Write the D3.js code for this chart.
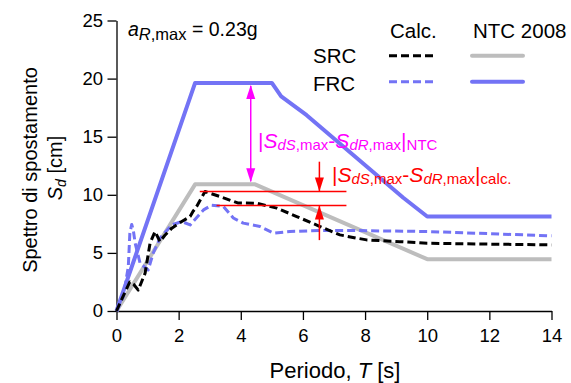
<!DOCTYPE html>
<html>
<head>
<meta charset="utf-8">
<script src="https://cdn.jsdelivr.net/npm/d3@7"></script>
<style>
  body { margin: 0; background: #fff; }
  svg text { font-family: "Liberation Sans", Arial, sans-serif; }
</style>
</head>
<body>
<script>
'use strict';

// calc. spectra (dashed)
const srcCalcT  = [0, 0.2, 0.43, 0.55, 0.7, 0.92, 1.08, 1.24, 1.4, 1.55, 1.78, 2.1, 2.37, 2.47, 2.58, 2.85, 3.33, 3.9, 4.5, 5.16, 5.8, 6.55, 7.19, 7.73, 8.05, 9.12, 10, 11.27, 14];
const srcCalcSd = [0, 1.2, 2.5, 2.3, 1.8, 3.25, 5.84, 6.84, 5.97, 6.5, 7.13, 7.7, 8.13, 8.6, 9.0, 10.28, 9.85, 9.3, 9.28, 8.85, 8.13, 7.27, 6.55, 6.27, 6.12, 5.97, 5.83, 5.78, 5.69];
const frcCalcT  = [0, 0.22, 0.38, 0.43, 0.49, 0.54, 0.6, 0.76, 1.02, 1.18, 1.4, 1.78, 2.1, 2.37, 2.8, 3.06, 3.44, 3.76, 4.08, 4.62, 5.05, 5.58, 6.55, 7.73, 10, 14];
const frcCalcSd = [0, 1.23, 3.82, 6.7, 7.45, 6.98, 5.84, 4.1, 3.53, 4.97, 6.27, 7.41, 7.7, 7.41, 8.7, 9.1, 9.0, 8.0, 7.56, 7.27, 6.7, 6.84, 6.92, 6.92, 6.84, 6.47];

// NTC 2008 spectra (solid)
const srcNtcT  = [0, 2.53, 4.46, 10, 14];
const srcNtcSd = [0, 10.9, 10.9, 4.46, 4.46];
const frcNtcT  = [0, 2.53, 5.0, 5.3, 6.12, 9.23, 10, 14];
const frcNtcSd = [0, 19.63, 19.63, 18.47, 16.85, 9.75, 8.13, 8.13];

// annotation values
const srcMax = 10.28, frcMax = 9.08;
const ntcArrowT = 4.32;
const calcArrowT = 6.53;

const xTicks = [0, 2, 4, 6, 8, 10, 12, 14];
const yTicks = [0, 5, 10, 15, 20, 25];

(function() {

  let svg = "";
  let width = 571;
  let height = 383;

  window.onload = function() {
    svg = d3.select('body')
      .append('svg')
      .attr('width', width)
      .attr('height', height);

    let map = drawAxes();
    plotLines(map);
    drawAnnotations(map);
    makeLabels();
    makeLegend();
  }

  function drawAxes() {
    let xScale = d3.scaleLinear().domain([0, 14]).range([116.5, 551.5]);
    let yScale = d3.scaleLinear().domain([0, 25]).range([311, 20.5]);

    let xMinor = d3.range(0, 14.01, 0.5);
    let yMinor = d3.range(0, 25.01, 1);

    let gx = svg.append('g').attr('transform', 'translate(0,311)');
    gx.call(d3.axisBottom(xScale).tickValues(xMinor).tickSize(5).tickSizeOuter(0).tickFormat(''));
    gx.call(d3.axisBottom(xScale).tickValues(xTicks).tickSize(9).tickSizeOuter(0).tickPadding(8.5));

    let gy = svg.append('g').attr('transform', 'translate(116.5,0)');
    gy.call(d3.axisLeft(yScale).tickValues(yMinor).tickSize(5).tickSizeOuter(0).tickFormat(''));
    gy.call(d3.axisLeft(yScale).tickValues(yTicks).tickSize(9).tickSizeOuter(0).tickPadding(4.5));

    svg.selectAll('.domain').attr('stroke', '#000').attr('stroke-width', 1.3);
    svg.selectAll('.tick line').attr('stroke', '#000').attr('stroke-width', 1.3);
    svg.selectAll('.tick text')
      .style('font-size', '18.5px')
      .style('font-family', '"Liberation Sans", Arial, sans-serif')
      .attr('fill', '#000');

    return { xScale: xScale, yScale: yScale };
  }

  function plotLines(map) {
    let line = d3.line()
      .x(d => map.xScale(d[0]))
      .y(d => map.yScale(d[1]));

    let series = [
      { t: srcNtcT, s: srcNtcSd, color: '#bdbdbd', w: 4, dash: null },
      { t: frcNtcT, s: frcNtcSd, color: '#7373f5', w: 4, dash: null },
      { t: frcCalcT, s: frcCalcSd, color: '#7373f5', w: 3, dash: '8,4' },
      { t: srcCalcT, s: srcCalcSd, color: '#000', w: 3, dash: '8,4' }
    ];

    series.forEach(function(d) {
      let pts = d.t.map((t, i) => [t, d.s[i]]);
      svg.append('path')
        .datum(pts)
        .attr('d', line)
        .attr('fill', 'none')
        .attr('stroke', d.color)
        .attr('stroke-width', d.w)
        .attr('stroke-linejoin', 'round')
        .attr('stroke-dasharray', d.dash);
    });
  }

  function arrowHead(x, y, dir, color) {
    // dir = 1 pointing down, -1 pointing up
    let h = 14, w = 4.5;
    svg.append('path')
      .attr('d', 'M' + x + ',' + y + 'L' + (x - w) + ',' + (y - dir * h) + 'L' + (x + w) + ',' + (y - dir * h) + 'Z')
      .attr('fill', color);
  }

  function drawAnnotations(map) {
    let x = map.xScale, y = map.yScale;

    // magenta double arrow between NTC plateaus
    let mx = x(ntcArrowT);
    svg.append('line')
      .attr('x1', mx).attr('x2', mx)
      .attr('y1', y(frcNtcSd[1]) + 3).attr('y2', y(srcNtcSd[1]) - 3)
      .attr('stroke', '#ff00ff').attr('stroke-width', 1.5);
    arrowHead(mx, y(frcNtcSd[1]) + 2, -1, '#ff00ff');
    arrowHead(mx, y(srcNtcSd[1]) - 2, 1, '#ff00ff');

    // red reference lines at calc. maxima
    svg.append('line')
      .attr('x1', x(2.68)).attr('x2', x(7.4))
      .attr('y1', y(srcMax)).attr('y2', y(srcMax))
      .attr('stroke', '#ff0000').attr('stroke-width', 1.5);
    svg.append('line')
      .attr('x1', x(3.22)).attr('x2', x(7.4))
      .attr('y1', y(frcMax)).attr('y2', y(frcMax))
      .attr('stroke', '#ff0000').attr('stroke-width', 1.5);

    let rx = x(calcArrowT);
    svg.append('line')
      .attr('x1', rx).attr('x2', rx)
      .attr('y1', y(12.85)).attr('y2', y(srcMax))
      .attr('stroke', '#ff0000').attr('stroke-width', 1.5);
    arrowHead(rx, y(srcMax), 1, '#ff0000');
    svg.append('line')
      .attr('x1', rx).attr('x2', rx)
      .attr('y1', y(6.1)).attr('y2', y(frcMax))
      .attr('stroke', '#ff0000').attr('stroke-width', 1.5);
    arrowHead(rx, y(frcMax), -1, '#ff0000');

    diffLabel(258, 148, '#ff00ff', 'NTC');
    diffLabel(332, 182, '#ff0000', 'calc.');
  }

  function diffLabel(x, yy, color, tag) {
    let t = svg.append('text')
      .attr('x', x).attr('y', yy)
      .attr('fill', color)
      .style('font-size', '21px');
    t.append('tspan').text('|');
    t.append('tspan').style('font-style', 'italic').text('S');
    t.append('tspan').attr('dy', 2).style('font-size', '15px').style('font-style', 'italic').text('dS');
    t.append('tspan').style('font-size', '15px').text(',max');
    t.append('tspan').attr('dy', -2).text('-');
    t.append('tspan').style('font-style', 'italic').text('S');
    t.append('tspan').attr('dy', 2).style('font-size', '15px').style('font-style', 'italic').text('dR');
    t.append('tspan').style('font-size', '15px').text(',max');
    t.append('tspan').attr('dy', -2).text('|');
    t.append('tspan').attr('dy', 2).style('font-size', '15px').text(tag);
  }

  function makeLabels() {
    let a = svg.append('text')
      .attr('x', 128).attr('y', 36)
      .style('font-size', '19.5px');
    a.append('tspan').style('font-style', 'italic').text('a');
    a.append('tspan').attr('dy', 4).style('font-size', '16.5px').style('font-style', 'italic').text('R');
    a.append('tspan').style('font-size', '16.5px').text(',max');
    a.append('tspan').attr('dy', -4).text(' = 0.23g');

    let xt = svg.append('text')
      .attr('x', 335).attr('y', 377.5)
      .attr('text-anchor', 'middle')
      .style('font-size', '22px');
    xt.append('tspan').text('Periodo, ');
    xt.append('tspan').style('font-style', 'italic').text('T');
    xt.append('tspan').text(' [s]');

    svg.append('text')
      .attr('transform', 'translate(37,170)rotate(-90)')
      .attr('text-anchor', 'middle')
      .style('font-size', '20px')
      .text('Spettro di spostamento');

    let yt = svg.append('text')
      .attr('transform', 'translate(62,168)rotate(-90)')
      .attr('text-anchor', 'middle')
      .style('font-size', '20px');
    yt.append('tspan').style('font-style', 'italic').text('S');
    yt.append('tspan').attr('dy', 4).style('font-size', '14px').style('font-style', 'italic').text('d');
    yt.append('tspan').attr('dy', -4).text(' [cm]');
  }

  function makeLegend() {
    let labels = [
      { x: 390, y: 38, t: 'Calc.' },
      { x: 473, y: 38, t: 'NTC 2008' },
      { x: 313, y: 63, t: 'SRC' },
      { x: 313, y: 90.5, t: 'FRC' }
    ];
    svg.selectAll('.legtext')
      .data(labels)
      .enter()
      .append('text')
      .attr('x', d => d.x)
      .attr('y', d => d.y)
      .style('font-size', '20.5px')
      .text(d => d.t);

    let items = [
      { x1: 389, x2: 435, y: 55.7, color: '#000', w: 3, dash: '8,4' },
      { x1: 472, x2: 523, y: 55.7, color: '#bdbdbd', w: 4, dash: null },
      { x1: 389, x2: 435, y: 81.7, color: '#7373f5', w: 3, dash: '8,4' },
      { x1: 472, x2: 523, y: 81.7, color: '#7373f5', w: 4, dash: null }
    ];
    svg.selectAll('.legline')
      .data(items)
      .enter()
      .append('line')
      .attr('x1', d => d.x1).attr('x2', d => d.x2)
      .attr('y1', d => d.y).attr('y2', d => d.y)
      .attr('stroke', d => d.color)
      .attr('stroke-width', d => d.w)
      .attr('stroke-linecap', d => d.dash ? 'butt' : 'round')
      .attr('stroke-dasharray', d => d.dash);
  }

})();
</script>
</body>
</html>
